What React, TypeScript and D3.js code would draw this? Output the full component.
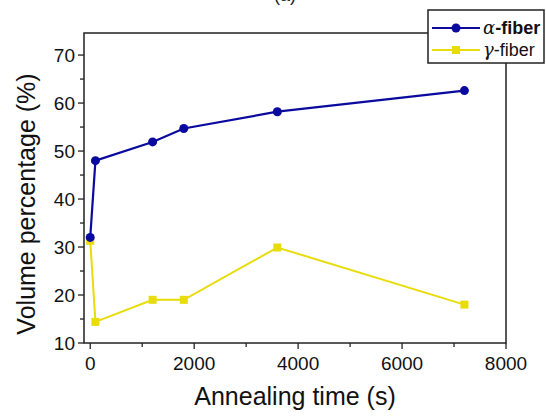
import { useMemo } from "react";
import * as d3 from "d3";

const times = [0, 100, 1200, 1800, 3600, 7200];
const alphaFiber = [32, 48, 51.9, 54.7, 58.2, 62.6];
const gammaFiber = [31.3, 14.4, 19, 19, 29.9, 18];
const xTicks = [0, 2000, 4000, 6000, 8000];
const yTicks = [10, 20, 30, 40, 50, 60, 70];

const WIDTH = 546;
const HEIGHT = 417;
const LEFT = 84;
const RIGHT = 506;
const TOP = 33;
const BOTTOM = 343;
const FONT = "Liberation Sans, Arial, sans-serif";

const BLUE = "#0a0a9e";
const YELLOW = "#e8dc0a";

export default function App() {
    const x = useMemo(() => d3.scaleLinear().domain([-120, 8000]).range([LEFT, RIGHT]), []);
    const y = useMemo(() => d3.scaleLinear().domain([10, 74.6]).range([BOTTOM, TOP]), []);

    const line = d3
        .line<number>()
        .x((_, i) => x(times[i]))
        .y((d) => y(d));

    const xMinor = d3.range(1000, 8000, 2000);
    const yMinor = d3.range(15, 75, 10);

    return (
        <svg
            width={WIDTH}
            height={HEIGHT}
            style={{ position: "absolute", left: 0, top: 0, background: "#fff" }}
            fontFamily={FONT}
        >
            <text x={285} y={1} fontSize={18} textAnchor="middle" fill="#222">(a)</text>

            {/* frame */}
            <rect x={LEFT} y={TOP} width={RIGHT - LEFT} height={BOTTOM - TOP} fill="none" stroke="#222" strokeWidth={1.5} />

            {/* x ticks */}
            {xTicks.map((t) => (
                <g key={t}>
                    <line x1={x(t)} x2={x(t)} y1={BOTTOM} y2={BOTTOM + 6} stroke="#222" strokeWidth={1.3} />
                    <text x={x(t)} y={BOTTOM + 27} fontSize={19} textAnchor="middle" fill="#111">{t}</text>
                </g>
            ))}
            {xMinor.map((t) => (
                <line key={t} x1={x(t)} x2={x(t)} y1={BOTTOM} y2={BOTTOM + 4} stroke="#222" strokeWidth={1.3} />
            ))}

            {/* y ticks */}
            {yTicks.map((t) => (
                <g key={t}>
                    <line x1={LEFT - 6} x2={LEFT} y1={y(t)} y2={y(t)} stroke="#222" strokeWidth={1.3} />
                    <text x={LEFT - 9} y={y(t) + 7} fontSize={19} textAnchor="end" fill="#111">{t}</text>
                </g>
            ))}
            {yMinor.map((t) => (
                <line key={t} x1={LEFT - 4} x2={LEFT} y1={y(t)} y2={y(t)} stroke="#222" strokeWidth={1.3} />
            ))}

            {/* axis labels */}
            <text x={295} y={405} fontSize={25} textAnchor="middle" fill="#111">Annealing time (s)</text>
            <text
                transform={`translate(35, 204) rotate(-90)`}
                fontSize={25}
                textAnchor="middle"
                fill="#111"
            >
                Volume percentage (%)
            </text>

            {/* gamma series */}
            <path d={line(gammaFiber)!} fill="none" stroke={YELLOW} strokeWidth={2} />
            {gammaFiber.map((v, i) => (
                <rect key={i} x={x(times[i]) - 4} y={y(v) - 4} width={8} height={8} fill={YELLOW} />
            ))}

            {/* alpha series */}
            <path d={line(alphaFiber)!} fill="none" stroke={BLUE} strokeWidth={2.2} />
            {alphaFiber.map((v, i) => (
                <circle key={i} cx={x(times[i])} cy={y(v)} r={4.5} fill={BLUE} />
            ))}

            {/* legend */}
            <g>
                <rect x={428} y={10} width={116} height={53} fill="#fff" stroke="#222" strokeWidth={1.5} />
                <line x1={432} x2={480} y1={28} y2={28} stroke={BLUE} strokeWidth={2.2} />
                <circle cx={456} cy={28} r={4.5} fill={BLUE} />
                <text x={483} y={34} fontSize={18} fill="#111">
                    <tspan fontFamily="DejaVu Serif, serif" fontStyle="italic">α</tspan>
                    <tspan fontWeight="bold">-fiber</tspan>
                </text>
                <line x1={432} x2={480} y1={50} y2={50} stroke={YELLOW} strokeWidth={2} />
                <rect x={452} y={46} width={8} height={8} fill={YELLOW} />
                <text x={483} y={56} fontSize={18} fill="#111">
                    <tspan fontFamily="DejaVu Serif, serif" fontStyle="italic">γ</tspan>
                    <tspan>-fiber</tspan>
                </text>
            </g>
        </svg>
    );
}
